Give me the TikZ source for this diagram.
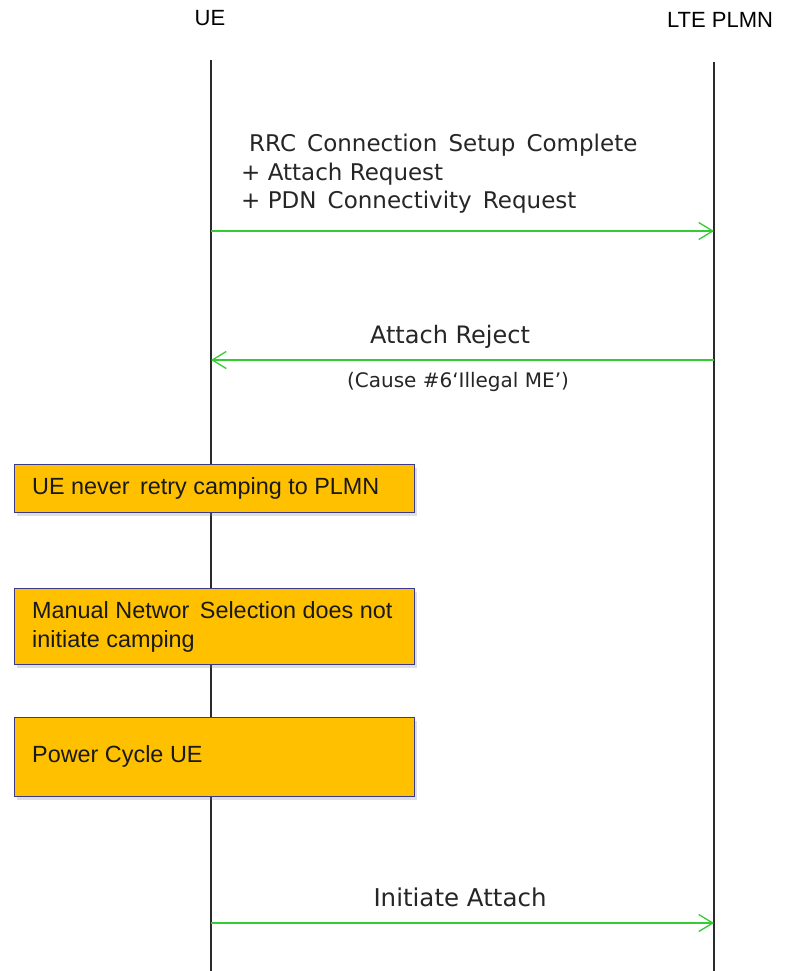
\documentclass[tikz,border=0pt]{standalone}
\usepackage{fontspec}
\setmainfont{Liberation Sans}
\newfontfamily\msgfont{DejaVu Sans}
\usetikzlibrary{arrows.meta,shadows}
\definecolor{msggreen}{HTML}{33CC33}
\definecolor{notefill}{HTML}{FFC000}
\definecolor{noteedge}{HTML}{3A3A8C}
\definecolor{lifeline}{HTML}{2A2A2A}
\tikzset{
  lifelinestyle/.style={draw=lifeline, line width=1.4pt},
  header/.style={font=\fontsize{22}{24}\selectfont, inner sep=0pt},
  msg/.style={draw=msggreen, line width=1.3pt,
    -{Straight Barb[length=14pt,width=17pt,line width=1.3pt]}},
  msglabel/.style={font=\msgfont\fontsize{23}{28}\selectfont, inner sep=0pt, text=black!85},
  notebox/.style={draw=noteedge, line width=1.4pt, fill=notefill,
    minimum width=400pt, anchor=north west, inner sep=0pt,
    drop shadow={opacity=0.25, shadow xshift=2pt, shadow yshift=-3pt}},
  notetext/.style={font=\fontsize{23.4}{29}\selectfont, anchor=west, align=left, inner sep=0pt, text=black!90},
}
\begin{document}
\begin{tikzpicture}[x=1pt,y=-1pt]
\useasboundingbox[fill=white] (0,0) rectangle (784,971);

% lane headers
\node[header] (ue) at (210,18) {UE};
\node[header] (net) at (720,20) {LTE PLMN};

% lifelines
\coordinate (ueTop) at (211,60);
\coordinate (ueBot) at (211,971);
\coordinate (netTop) at (714,62);
\coordinate (netBot) at (714,971);
\draw[lifelinestyle] (ueTop) -- (ueBot);
\draw[lifelinestyle] (netTop) -- (netBot);

% message anchor points on the lifelines
\coordinate (ueA) at (211,231);
\coordinate (netA) at (714,231);
\coordinate (ueB) at (211,360);
\coordinate (netB) at (714,360);
\coordinate (ueC) at (211,923);
\coordinate (netC) at (714,923);

% attach request
\node[msglabel, anchor=west] (m1a) at (249,145) {RRC\, Connection\, Setup\, Complete};
\node[msglabel, anchor=west] (m1b) at (241,174) {+ Attach Request};
\node[msglabel, anchor=west] (m1c) at (241,202) {+ PDN\, Connectivity\, Request};
\draw[msg] (ueA) -- (netA);

% attach reject
\node[msglabel, font=\msgfont\fontsize{24}{28}\selectfont] (m2) at (450,337) {Attach Reject};
\node[msglabel, font=\msgfont\fontsize{20}{24}\selectfont] (m2c) at (458,382) {(Cause \#6‘Illegal ME’)};
\draw[msg] (netB) -- (ueB);

% notes on the UE side
\node[notebox, minimum height=48pt] (n1) at (14,464) {};
\node[notetext] (t1) at (32,488) {UE never\, retry camping to PLMN};

\node[notebox, minimum height=76pt] (n2) at (14,588) {};
\node[notetext] (t2) at (32,626.5) {Manual Networ\, Selection does not\\initiate camping};

\node[notebox, minimum height=79pt] (n3) at (14,717) {};
\node[notetext] (t3) at (32,756) {Power Cycle UE};

% re-attach
\node[msglabel, font=\msgfont\fontsize{24.5}{28}\selectfont] (m3) at (460,897) {Initiate Attach};
\draw[msg] (ueC) -- (netC);
\end{tikzpicture}
\end{document}
